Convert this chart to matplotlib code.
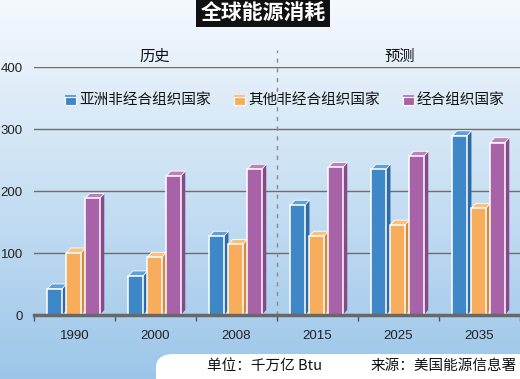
import numpy as np
import matplotlib
matplotlib.use('agg')
import matplotlib.pyplot as plt
from matplotlib.patches import Polygon, Rectangle, FancyBboxPatch
import matplotlib.colors as mcolors

plt.rcParams['font.family'] = ['Noto Sans CJK SC', 'DejaVu Sans']

# data (quadrillion Btu)
years = ['1990', '2000', '2008', '2015', '2025', '2035']
asia_non_oecd = [42, 63, 127, 177, 235, 289]
other_non_oecd = [100, 93, 114, 127, 145, 172]
oecd = [188, 224, 235, 238, 256, 278]
series_names = ['亚洲非经合组织国家', '其他非经合组织国家', '经合组织国家']

front = ['#3f88c7', '#f8ad5c', '#a862a8']
side = ['#2c6ba5', '#d58b3d', '#864a88']
top = ['#5d9fd6', '#fbc07e', '#bf7fbf']

W, H = 520, 379
fig = plt.figure(figsize=(W / 100, H / 100), dpi=100)


def fx(px):
    return px / W


def fy(py):
    return 1 - py / H


# background gradient
bg = fig.add_axes([0, 0, 1, 1], zorder=-2)
c0 = np.array(mcolors.to_rgb('#f5f9fd'))
c1 = np.array(mcolors.to_rgb('#9cc6e9'))
t = np.linspace(0, 1, 256)[:, None]
grad = (c0 * (1 - t) + c1 * t)[:, None, :]
bg.imshow(grad, aspect='auto', extent=[0, 1, 0, 1])
bg.set_xlim(0, 1)
bg.set_ylim(0, 1)
bg.axis('off')

# bottom white note box
bg.add_patch(FancyBboxPatch((fx(156), -0.05), 1.0, fy(354) + 0.05,
                            boxstyle='round,pad=0,rounding_size=0.035',
                            fc='white', ec='none'))

ax = fig.add_axes([fx(34), 1 - 315 / H, fx(486), (315 - 67) / H])
ax.set_facecolor('none')
ax.set_xlim(-0.5, 5.5)
ax.set_ylim(0, 400)

x = np.arange(len(years))
offsets = [-0.245, -0.012, 0.222]
width = 0.18
ppx = 486 / 6      # pixels per x unit
ppy = 248 / 400    # pixels per y unit
dx = 4.5 / ppx
dy = 5 / ppy

for s, vals in enumerate([asia_non_oecd, other_non_oecd, oecd]):
    for i, v in enumerate(vals):
        x0 = x[i] + offsets[s] - width / 2
        x1 = x0 + width
        ax.add_patch(Polygon([(x1, 0), (x1, v), (x1 + dx, v + dy), (x1 + dx, dy)],
                             closed=True, fc=side[s], ec='none', zorder=3))
        ax.add_patch(Polygon([(x0, v), (x1, v), (x1 + dx, v + dy), (x0 + dx, v + dy)],
                             closed=True, fc=top[s], ec='white', lw=0.6, zorder=3))
    ax.bar(x + offsets[s], vals, width=width, color=front[s], edgecolor='white',
           linewidth=1.1, zorder=4)

ax.set_yticks([0, 100, 200, 300, 400])
ax.yaxis.grid(True, color='#6e6e6e', lw=1)
ax.set_axisbelow(True)
ax.tick_params(axis='y', length=0, pad=8, labelsize=9.5, labelcolor='#222222')
for lab in ax.get_yticklabels():
    lab.set_family('Liberation Sans')

ax.set_xticks(x)
ax.set_xticklabels(years, family='Liberation Sans', fontsize=9.5, color='#222222')
ax.set_xticks(np.arange(-0.5, 6.0, 1.0), minor=True)
ax.tick_params(axis='x', which='major', length=0, pad=11)
ax.tick_params(axis='x', which='minor', length=4, width=1, color='#555555', direction='out')

for sp in ['left', 'right', 'top']:
    ax.spines[sp].set_visible(False)
ax.spines['bottom'].set_color('#686868')
ax.spines['bottom'].set_linewidth(2.5)
ax.spines['bottom'].set_zorder(6)

# divider between history and forecast
ax.plot([2.5, 2.5], [0, 428], ls=(0, (3, 4)), color='#8a8a8a', lw=1, clip_on=False, zorder=2)

fig.text(fx(155), fy(56), '历史', ha='center', va='center', fontsize=11, color='#111111')
fig.text(fx(400), fy(56), '预测', ha='center', va='center', fontsize=11, color='#111111')

# legend
leg_x = [65, 234, 403]
for s in range(3):
    bx = leg_x[s]
    fig.patches.append(Rectangle((fx(bx), fy(105)), fx(11), 8 / H, transform=fig.transFigure,
                                 fc=front[s], ec='white', lw=0.8))
    fig.patches.append(Rectangle((fx(bx), fy(97)), fx(11), 2 / H, transform=fig.transFigure,
                                 fc=top[s], ec='none'))
    fig.text(fx(bx + 14), fy(100), series_names[s], ha='left', va='center',
             fontsize=10.5, color='#111111')

# title
fig.text(fx(263), fy(12), '全球能源消耗', ha='center', va='center', fontsize=15,
         fontweight='bold', color='white',
         bbox=dict(boxstyle='square,pad=0.2', fc='#111111', ec='none'))

# notes
fig.text(fx(207), fy(366), '单位：千万亿 Btu', ha='left', va='center', fontsize=10.5, color='#111111')
fig.text(fx(517), fy(366), '来源：美国能源信息署', ha='right', va='center', fontsize=10.5, color='#111111')

fig.savefig('out.png', dpi=100)
